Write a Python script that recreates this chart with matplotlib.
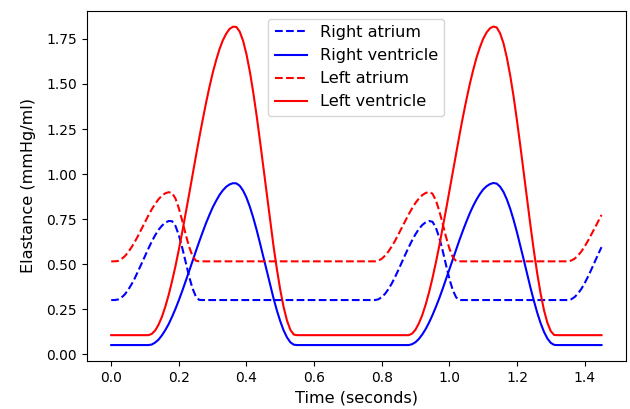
import matplotlib
matplotlib.use('Agg')
import matplotlib.pyplot as plt

# sample times (seconds)
time = [0.00, 0.01, 0.02, 0.03, 0.04, 0.05, 0.06, 0.07, 0.08, 0.09,
        0.10, 0.11, 0.12, 0.13, 0.14, 0.15, 0.16, 0.17, 0.18, 0.19,
        0.20, 0.21, 0.22, 0.23, 0.24, 0.25, 0.26, 0.27, 0.28, 0.29,
        0.30, 0.31, 0.32, 0.33, 0.34, 0.35, 0.36, 0.37, 0.38, 0.39,
        0.40, 0.41, 0.42, 0.43, 0.44, 0.45, 0.46, 0.47, 0.48, 0.49,
        0.50, 0.51, 0.52, 0.53, 0.54, 0.55, 0.56, 0.57, 0.58, 0.59,
        0.60, 0.61, 0.62, 0.63, 0.64, 0.65, 0.66, 0.67, 0.68, 0.69,
        0.70, 0.71, 0.72, 0.73, 0.74, 0.75, 0.76, 0.77, 0.78, 0.79,
        0.80, 0.81, 0.82, 0.83, 0.84, 0.85, 0.86, 0.87, 0.88, 0.89,
        0.90, 0.91, 0.92, 0.93, 0.94, 0.95, 0.96, 0.97, 0.98, 0.99,
        1.00, 1.01, 1.02, 1.03, 1.04, 1.05, 1.06, 1.07, 1.08, 1.09,
        1.10, 1.11, 1.12, 1.13, 1.14, 1.15, 1.16, 1.17, 1.18, 1.19,
        1.20, 1.21, 1.22, 1.23, 1.24, 1.25, 1.26, 1.27, 1.28, 1.29,
        1.30, 1.31, 1.32, 1.33, 1.34, 1.35, 1.36, 1.37, 1.38, 1.39,
        1.40, 1.41, 1.42, 1.43, 1.44, 1.45]

# elastance values (mmHg/ml)
right_atrium = ([0.300, 0.300, 0.303, 0.313, 0.331, 0.356, 0.387, 0.422, 0.462, 0.503,
                 0.545, 0.586, 0.625, 0.660, 0.690, 0.713, 0.730, 0.739, 0.738, 0.712,
                 0.661, 0.591, 0.512, 0.434, 0.367, 0.321, 0.301]
                + [0.30] * 52
                + [0.304, 0.316, 0.335, 0.361, 0.393, 0.430, 0.470, 0.512, 0.554, 0.594,
                   0.632, 0.666, 0.695, 0.717, 0.732, 0.739, 0.735, 0.703, 0.648, 0.576,
                   0.496, 0.419, 0.356, 0.315]
                + [0.30] * 33
                + [0.304, 0.316, 0.335, 0.361, 0.393, 0.430, 0.470, 0.512, 0.554, 0.594])

left_atrium = ([0.515, 0.515, 0.517, 0.527, 0.543, 0.565, 0.593, 0.624, 0.659, 0.696,
                0.734, 0.770, 0.804, 0.834, 0.860, 0.880, 0.893, 0.899, 0.895, 0.864,
                0.810, 0.741, 0.667, 0.598, 0.547, 0.519, 0.515]
               + [0.515] * 52
               + [0.519, 0.529, 0.547, 0.570, 0.599, 0.631, 0.667, 0.704, 0.741, 0.777,
                  0.810, 0.840, 0.864, 0.883, 0.895, 0.900, 0.891, 0.855, 0.797, 0.726,
                  0.652, 0.587, 0.539, 0.516]
               + [0.515] * 33
               + [0.519, 0.529, 0.546, 0.569, 0.597, 0.629, 0.664, 0.700, 0.737, 0.773])

right_ventricle = ([0.05] * 12
                   + [0.053, 0.064, 0.080, 0.104, 0.133, 0.167, 0.207, 0.251, 0.299, 0.350,
                      0.404, 0.458, 0.514, 0.569, 0.623, 0.675, 0.725, 0.771, 0.814, 0.850,
                      0.883, 0.909, 0.929, 0.942, 0.949, 0.948, 0.935, 0.908, 0.869, 0.818,
                      0.758, 0.690, 0.616, 0.539, 0.461, 0.384, 0.310, 0.242, 0.182, 0.131,
                      0.092, 0.065, 0.052]
                   + [0.05] * 34
                   + [0.055, 0.066, 0.084, 0.109, 0.139, 0.175, 0.216, 0.261, 0.309, 0.361,
                      0.415, 0.470, 0.525, 0.580, 0.634, 0.685, 0.734, 0.780, 0.821, 0.857,
                      0.888, 0.914, 0.932, 0.944, 0.950, 0.947, 0.930, 0.901, 0.859, 0.807,
                      0.745, 0.676, 0.601, 0.524, 0.445, 0.368, 0.296, 0.229, 0.171, 0.123,
                      0.086, 0.062, 0.051]
                   + [0.05] * 14)

left_ventricle = ([0.105] * 12
                  + [0.112, 0.131, 0.163, 0.207, 0.263, 0.329, 0.405, 0.488, 0.580, 0.677,
                     0.779, 0.883, 0.989, 1.094, 1.197, 1.296, 1.391, 1.479, 1.560, 1.630,
                     1.692, 1.742, 1.779, 1.806, 1.818, 1.817, 1.791, 1.740, 1.665, 1.569,
                     1.454, 1.325, 1.184, 1.037, 0.888, 0.741, 0.600, 0.471, 0.356, 0.260,
                     0.185, 0.134, 0.108]
                  + [0.105] * 34
                  + [0.114, 0.136, 0.171, 0.217, 0.275, 0.343, 0.421, 0.507, 0.599, 0.698,
                     0.800, 0.905, 1.010, 1.115, 1.217, 1.316, 1.409, 1.496, 1.574, 1.644,
                     1.702, 1.751, 1.786, 1.809, 1.819, 1.814, 1.782, 1.727, 1.647, 1.547,
                     1.430, 1.297, 1.155, 1.007, 0.858, 0.712, 0.573, 0.446, 0.335, 0.243,
                     0.173, 0.127, 0.106]
                  + [0.105] * 14)

fig, ax = plt.subplots(figsize=(6.3, 4.09), dpi=100)
fig.subplots_adjust(left=0.1376, right=0.9937, top=0.974, bottom=0.1174)

ax.plot(time, right_atrium, 'b--', label='Right atrium')
ax.plot(time, right_ventricle, 'b-', label='Right ventricle')
ax.plot(time, left_atrium, 'r--', label='Left atrium')
ax.plot(time, left_ventricle, 'r-', label='Left ventricle')

ax.set_xlabel('Time (seconds)', fontsize=11.6)
ax.set_ylabel('Elastance (mmHg/ml)', fontsize=11.6, labelpad=7)
ax.legend(loc='upper center', fontsize=11.6)

fig.savefig('out.png')
